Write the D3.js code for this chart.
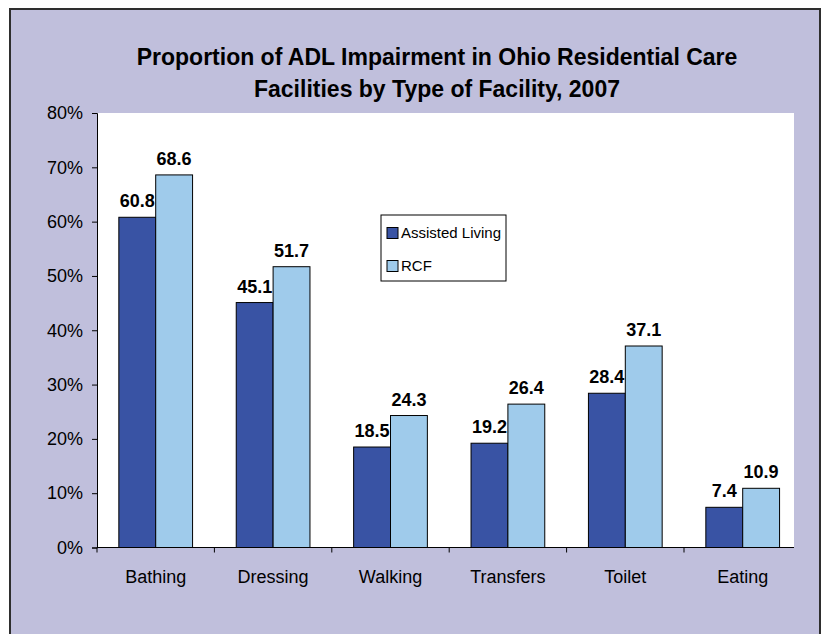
<!DOCTYPE html>
<html>
<head>
<meta charset="utf-8">
<script src="https://cdn.jsdelivr.net/npm/d3@7"></script>
<style>
  body { margin: 0; background: #fff; }
  svg { display: block; font-family: Arial, "Liberation Sans", sans-serif; }
</style>
</head>
<body>
<svg id="chart" width="823" height="634"></svg>
<script>
// chart data
const categories = ["Bathing", "Dressing", "Walking", "Transfers", "Toilet", "Eating"];
const seriesNames = ["Assisted Living", "RCF"];
const assistedLiving = [60.8, 45.1, 18.5, 19.2, 28.4, 7.4];
const rcf = [68.6, 51.7, 24.3, 26.4, 37.1, 10.9];
const yTicks = [0, 10, 20, 30, 40, 50, 60, 70, 80];
const colors = ["#3953a4", "#9fcbeb"];

const svg = d3.select("#chart");

// outer frame
svg.append("rect")
  .attr("x", 10).attr("y", 9)
  .attr("width", 810).attr("height", 640)
  .attr("fill", "#c0bfdc")
  .attr("stroke", "#2e2e2e").attr("stroke-width", 2);

// plot area (band scale runs a little past the clipped right edge, as in the source)
const plot = { left: 97, top: 113, right: 794, bottom: 547.5 };
const bandStep = 117.4;

svg.append("rect")
  .attr("x", plot.left).attr("y", plot.top)
  .attr("width", plot.right - plot.left).attr("height", plot.bottom - plot.top)
  .attr("fill", "#fff");

// title
const title = svg.append("text")
  .attr("text-anchor", "middle")
  .attr("font-weight", "bold")
  .attr("font-size", 23)
  .attr("fill", "#000");
title.append("tspan").attr("x", 437).attr("y", 65).text("Proportion of ADL Impairment in Ohio Residential Care");
title.append("tspan").attr("x", 437).attr("y", 97).text("Facilities by Type of Facility, 2007");

const x = d3.scaleBand().domain(categories).range([plot.left, plot.left + bandStep * categories.length]);
const y = d3.scaleLinear().domain([0, 80]).range([plot.bottom, plot.top]);

const groupPad = 0.186; // fraction of band on each side
const barW = x.bandwidth() * (1 - 2 * groupPad) / 2;

const data = categories.map((c, i) => ({ cat: c, values: [assistedLiving[i], rcf[i]] }));

const groups = svg.append("g").selectAll("g")
  .data(data).join("g")
  .attr("transform", d => `translate(${x(d.cat) + x.bandwidth() * groupPad},0)`);

groups.selectAll("rect")
  .data(d => d.values).join("rect")
  .attr("x", (d, j) => j * barW)
  .attr("y", d => y(d))
  .attr("width", barW)
  .attr("height", d => y(0) - y(d))
  .attr("fill", (d, j) => colors[j])
  .attr("stroke", "#000").attr("stroke-width", 1);

groups.selectAll("text")
  .data(d => d.values).join("text")
  .attr("x", (d, j) => j * barW + barW / 2)
  .attr("y", d => y(d) - 10)
  .attr("text-anchor", "middle")
  .attr("font-weight", "bold")
  .attr("font-size", 18)
  .text(d => d.toFixed(1));

// y axis
const yAxis = svg.append("g")
  .attr("transform", `translate(${plot.left},0)`)
  .call(d3.axisLeft(y).tickValues(yTicks).tickFormat(d => d + "%").tickSize(5).tickPadding(9));
yAxis.select(".domain").attr("stroke", "#000");
yAxis.selectAll("text").attr("font-size", 18).attr("fill", "#000").attr("font-family", "Arial, 'Liberation Sans', sans-serif");

// x axis with ticks at band edges
const xAxisG = svg.append("g");
xAxisG.append("line")
  .attr("x1", plot.left).attr("x2", plot.right)
  .attr("y1", plot.bottom).attr("y2", plot.bottom)
  .attr("stroke", "#000");
const edges = categories.map(c => x(c));
xAxisG.selectAll("line.tick")
  .data(edges).join("line")
  .attr("class", "tick")
  .attr("x1", d => d).attr("x2", d => d)
  .attr("y1", plot.bottom).attr("y2", plot.bottom + 5)
  .attr("stroke", "#000");
xAxisG.selectAll("text")
  .data(categories).join("text")
  .attr("x", d => x(d) + x.bandwidth() / 2)
  .attr("y", 583)
  .attr("text-anchor", "middle")
  .attr("font-size", 18)
  .text(d => d);

// legend
const legend = svg.append("g").attr("transform", "translate(381,215)");
legend.append("rect")
  .attr("width", 125).attr("height", 66)
  .attr("fill", "#fff").attr("stroke", "#000");
seriesNames.forEach((name, i) => {
  const ly = 23 + i * 33;
  legend.append("rect")
    .attr("x", 6).attr("y", ly - 10.5)
    .attr("width", 11).attr("height", 11)
    .attr("fill", colors[i]).attr("stroke", "#000");
  legend.append("text")
    .attr("x", 20).attr("y", ly)
    .attr("font-size", 15)
    .text(name);
});
</script>
</body>
</html>
